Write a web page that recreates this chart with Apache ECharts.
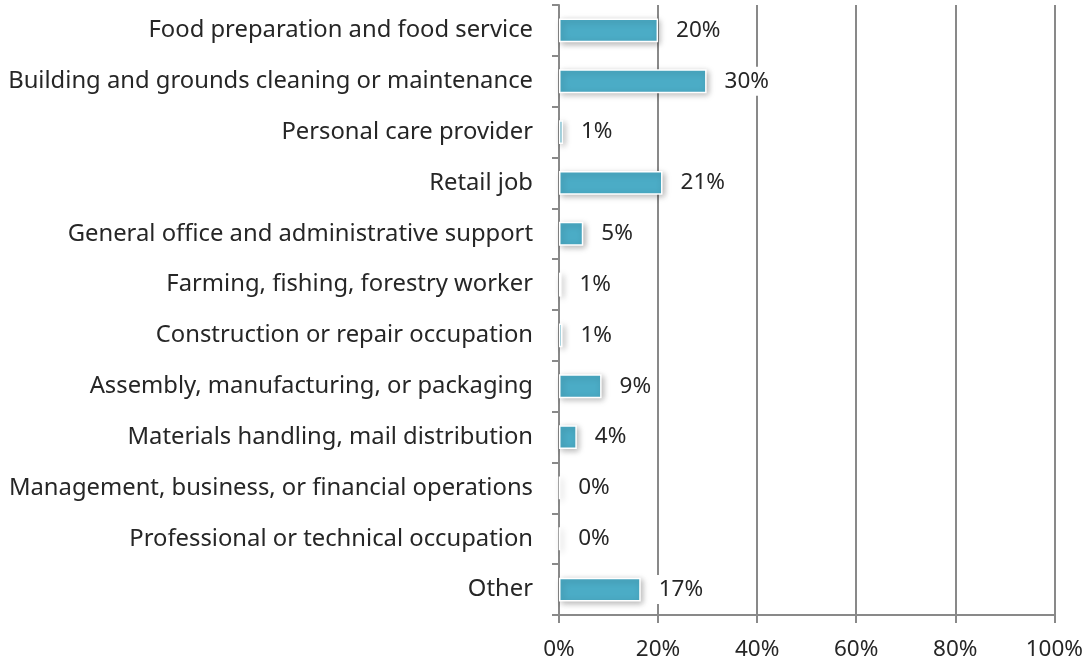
<!DOCTYPE html>
<html>
<head>
<meta charset="utf-8">
<style>
  html, body { margin: 0; padding: 0; background: #fff; }
  #chart { width: 1086px; height: 662px; }
</style>
<script src="https://cdn.jsdelivr.net/npm/echarts@6/dist/echarts.min.js"></script>
</head>
<body>
<div id="chart"></div>
<script>
// categories, top to bottom as shown
const categories = [
  'Food preparation and food service',
  'Building and grounds cleaning or maintenance',
  'Personal care provider',
  'Retail job',
  'General office and administrative support',
  'Farming, fishing, forestry worker',
  'Construction or repair occupation',
  'Assembly, manufacturing, or packaging',
  'Materials handling, mail distribution',
  'Management, business, or financial operations',
  'Professional or technical occupation',
  'Other'
]
// share of respondents (%)
const shares = [20, 29.8, 0.8, 20.9, 4.9, 0.5, 0.7, 8.6, 3.6, 0.2, 0.2, 16.5]
const tickLabels = ['0%', '20%', '40%', '60%', '80%', '100%']

const chart = echarts.init(document.getElementById('chart'))
const font = 'Noto Sans'

chart.setOption({
  animation: false,
  grid: {
    left: 559,
    right: 31,
    top: 5,
    bottom: 47,
    containLabel: false
  },
  xAxis: {
    type: 'value',
    min: 0,
    max: 100,
    interval: 20,
    axisLine: { show: true, lineStyle: { color: '#898989', width: 2 } },
    axisTick: { show: true, length: 8, lineStyle: { color: '#898989', width: 2 } },
    splitLine: { show: true, lineStyle: { color: '#898989', width: 2 } },
    axisLabel: {
      color: '#262626',
      fontFamily: font,
      fontSize: 22.5,
      margin: 23,
      formatter: v => tickLabels[v / 20]
    }
  },
  yAxis: {
    type: 'category',
    inverse: true,
    data: categories,
    axisLine: { show: true, lineStyle: { color: '#898989', width: 2 } },
    axisTick: { show: true, length: 7, lineStyle: { color: '#898989', width: 2 } },
    axisLabel: {
      color: '#262626',
      fontFamily: font,
      fontSize: 23.8,
      margin: 26,
      padding: [5, 0, 0, 0]
    }
  },
  series: [
    {
      type: 'bar',
      data: shares,
      barWidth: '47%',
      itemStyle: {
        color: '#4bacc6',
        borderColor: '#ffffff',
        borderWidth: 1.5,
        shadowBlur: 6,
        shadowColor: 'rgba(0,0,0,0.28)',
        shadowOffsetX: 2,
        shadowOffsetY: 2
      },
      label: {
        show: true,
        position: 'right',
        distance: 14,
        color: '#262626',
        fontFamily: font,
        fontSize: 22.5,
        backgroundColor: '#ffffff',
        padding: [5, 4, 1, 4],
        formatter: p => Math.round(p.value) + '%'
      }
    }
  ]
})
</script>
</body>
</html>
